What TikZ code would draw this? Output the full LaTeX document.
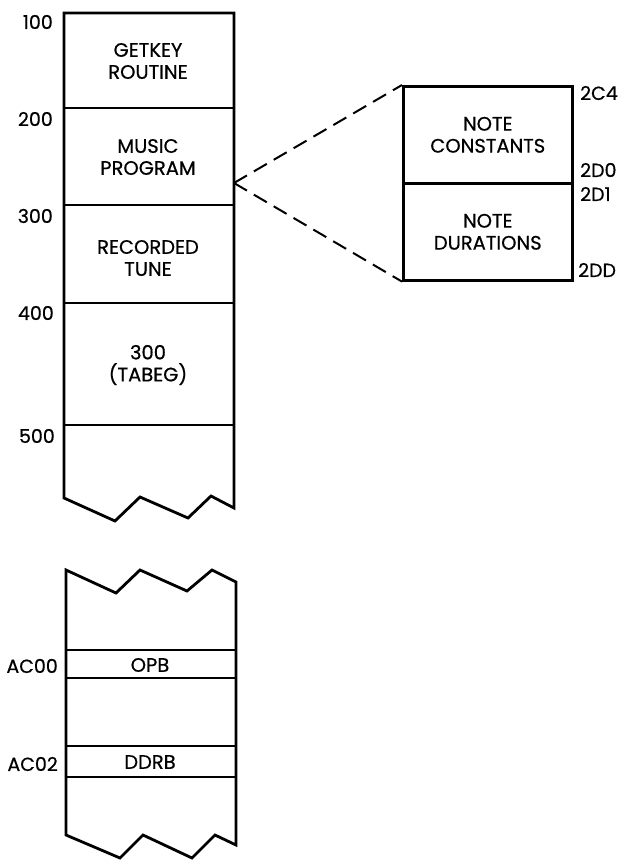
\documentclass[tikz,border=0pt]{standalone}
\usepackage{fontspec}
\setmainfont{Poppins}[FakeBold=0.6]
\begin{document}
\begin{tikzpicture}[x=1pt,y=-1pt,
  lbl/.style={font=\fontsize{19.5}{22}\selectfont, align=center, inner sep=0pt},
  addr/.style={font=\fontsize{19}{22}\selectfont, inner sep=0pt},
  outline/.style={line width=2.8pt, line join=miter},
  divider/.style={line width=2.2pt},
  zoomline/.style={line width=2pt, dash pattern=on 15pt off 8pt},
  boxpart/.style={draw, line width=2.6pt, minimum width=169pt, minimum height=97pt, inner sep=0pt, align=center, font=\fontsize{19.5}{22}\selectfont}]
\useasboundingbox (0,0) rectangle (619,860);
% upper memory column
\draw[outline] (64,498) -- (64,13) -- (234,13) -- (234,508) -- (211,496) -- (188,518) -- (140,497) -- (115,521) -- cycle;
\draw[divider] (64,108) -- (234,108);
\draw[divider] (64,205) -- (234,205);
\draw[divider] (64,303) -- (234,303);
\draw[divider] (64,425) -- (234,425);
\node[lbl] (getkey) at (148,61) {GETKEY\\ROUTINE};
\node[lbl] (music) at (148,157) {MUSIC\\PROGRAM};
\node[lbl] (tune) at (148,258) {RECORDED\\TUNE};
\node[lbl] (tabeg) at (148,365) {300\\(TABEG)};
\node[addr, anchor=east] (a100) at (53,22) {100};
\node[addr, anchor=east] (a200) at (53,119) {200};
\node[addr, anchor=east] (a300) at (53,216) {300};
\node[addr, anchor=east] (a400) at (54,313) {400};
\node[addr, anchor=east] (a500) at (55,436) {500};
% lower memory column
\draw[outline] (66,570) -- (116,593) -- (140,570) -- (187,591) -- (212,570) -- (236,582) -- (236,845) -- (215,835) -- (192,858) -- (143,835) -- (120,858) -- (66,835) -- cycle;
\draw[divider] (66,650) -- (236,650);
\draw[divider] (66,678) -- (236,678);
\draw[divider] (66,746) -- (236,746);
\draw[divider] (66,777) -- (236,777);
\node[lbl] (opb) at (150,665) {OPB};
\node[lbl] (ddrb) at (150,762) {DDRB};
\node[addr, anchor=east] (ac00) at (58,666) {AC00};
\node[addr, anchor=east] (ac02) at (58,764) {AC02};
% expanded box
\node[boxpart, anchor=north west] (nc) at (402,85) {NOTE\\CONSTANTS};
\node[boxpart, anchor=north west] (nd) at (402,182) {NOTE\\DURATIONS};
\node[addr, anchor=west] (a2c4) at (580,93) {2C4};
\node[addr, anchor=west] (a2d0) at (580,170) {2D0};
\node[addr, anchor=west] (a2d1) at (580,194) {2D1};
\node[addr, anchor=west] (a2dd) at (578,270) {2DD};
\coordinate (mp) at (234,183);
\draw[zoomline] (mp) -- (nc.north west);
\draw[zoomline] (mp) -- (nd.south west);
\end{tikzpicture}
\end{document}
